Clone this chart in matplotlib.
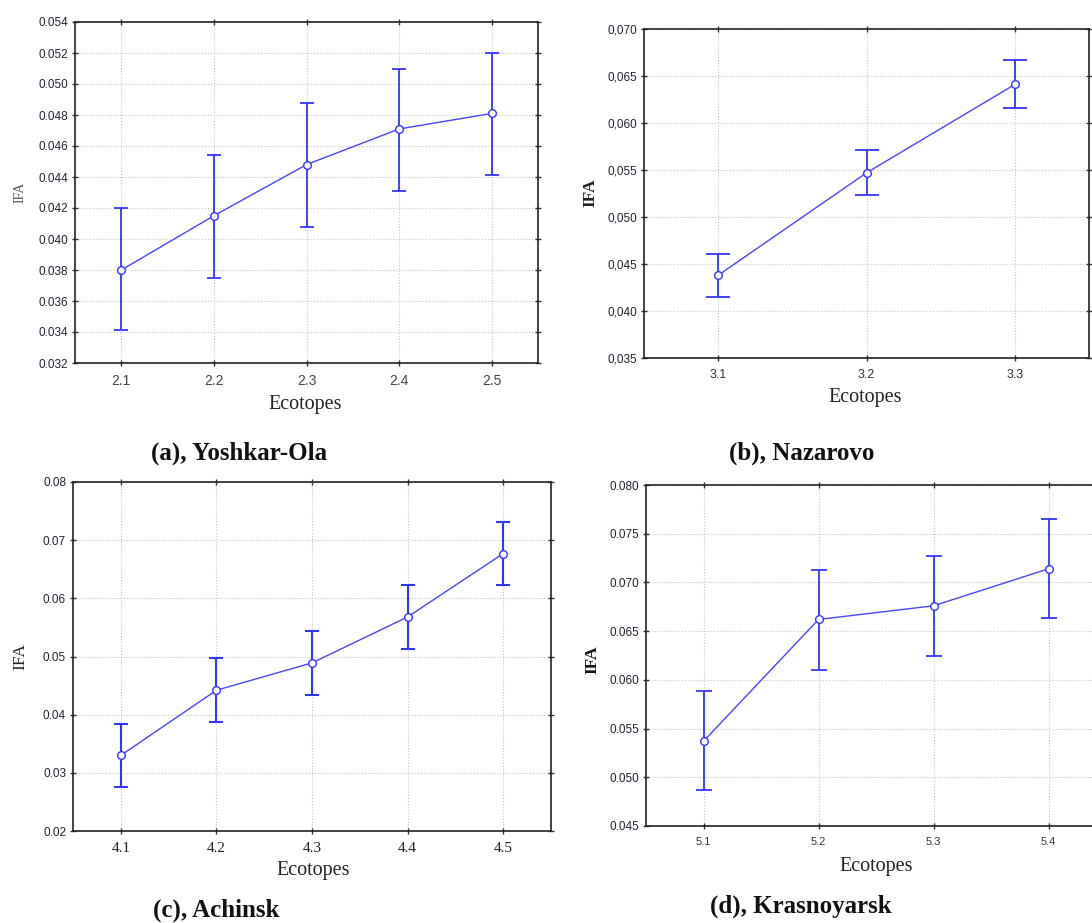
import matplotlib
matplotlib.use("Agg")
import matplotlib.pyplot as plt
import numpy as np

# ecotope labels per city
eco_a = ["2.1", "2.2", "2.3", "2.4", "2.5"]
eco_b = ["3.1", "3.2", "3.3"]
eco_c = ["4.1", "4.2", "4.3", "4.4", "4.5"]
eco_d = ["5.1", "5.2", "5.3", "5.4"]

# IFA means and confidence limits
mean_a = [0.0380, 0.0415, 0.0448, 0.0471, 0.0481]
low_a = [0.0341, 0.0375, 0.0408, 0.0431, 0.0441]
high_a = [0.0420, 0.0454, 0.0488, 0.0510, 0.0520]

mean_b = [0.0438, 0.0547, 0.0641]
low_b = [0.0415, 0.0523, 0.0616]
high_b = [0.0461, 0.0571, 0.0667]

mean_c = [0.0330, 0.0442, 0.0489, 0.0568, 0.0677]
low_c = [0.0275, 0.0388, 0.0434, 0.0513, 0.0623]
high_c = [0.0384, 0.0498, 0.0544, 0.0623, 0.0732]

mean_d = [0.0537, 0.0662, 0.0676, 0.0714]
low_d = [0.0487, 0.0610, 0.0625, 0.0663]
high_d = [0.0589, 0.0713, 0.0727, 0.0765]

captions = [("(a), ", "Yoshkar-Ola"), ("(b), ", "Nazarovo"),
            ("(c), ", "Achinsk"), ("(d), ", "Krasnoyarsk")]

W, H = 1092, 923
SERIF = ["Liberation Serif", "DejaVu Serif"]
SANS = ["Liberation Sans", "DejaVu Sans"]
BLUE = "#3434ff"

fig = plt.figure(figsize=(W / 100, H / 100), dpi=100)
fig.patch.set_facecolor("white")


def px_axes(l, t, r, b):
    return fig.add_axes([l / W, 1 - b / H, (r - l) / W, (b - t) / H])


def ftext(x, y, s, **kw):
    fig.text(x / W, 1 - y / H, s, ha="center", va="center", **kw)


def panel(ax, labels, mean, low, high, yticks, fmt, comma, capsize,
          xfont, xsize, xcolor, lw_err):
    x = np.arange(len(labels))
    mean = np.array(mean)
    err = [mean - np.array(low), np.array(high) - mean]
    ax.errorbar(x, mean, yerr=err, fmt="none", ecolor=BLUE, elinewidth=lw_err,
                capsize=capsize, capthick=lw_err, zorder=3)
    ax.plot(x, mean, "-", color="#4646ff", lw=1.0, marker="o", ms=5.5,
            mfc="white", mec=BLUE, mew=1.0, zorder=4)
    ax.set_xlim(-0.5, len(labels) - 0.5)
    ax.set_ylim(yticks[0], yticks[-1])
    ax.set_xticks(x)
    ax.set_xticklabels(labels, fontfamily=xfont, fontsize=xsize, color=xcolor)
    ax.set_yticks(yticks)
    yl = [fmt % v for v in yticks]
    if comma:
        yl = [s.replace(".", ",") for s in yl]
    ax.set_yticklabels(yl, fontfamily=SANS, fontsize=8.5, color="#222233")
    ax.grid(True, color="#c4c4c4", ls=":", lw=0.8)
    ax.tick_params(direction="inout", length=4, width=1, color="#333333",
                   top=True, right=True, pad=3)
    ax.tick_params(axis="x", pad=6)
    for s in ax.spines.values():
        s.set_color("#222222")
        s.set_linewidth(1.2)


ax = px_axes(75, 22, 538, 363)
panel(ax, eco_a, mean_a, low_a, high_a, np.linspace(0.032, 0.054, 12), "%.3f",
      False, 5, SANS, 10, "#444444", 1.3)
ftext(305, 405, "Ecotopes", fontfamily=SERIF, fontsize=14.5, color="#222222")
ftext(20, 192, "IFA", fontfamily=SERIF, fontsize=10, rotation=90, color="#555555")

ax = px_axes(644, 29, 1089, 358)
panel(ax, eco_b, mean_b, low_b, high_b, np.linspace(0.035, 0.070, 8), "%.3f",
      True, 8.5, SANS, 9, "#333333", 1.3)
ftext(865, 398, "Ecotopes", fontfamily=SERIF, fontsize=14.5, color="#222222")
ftext(590, 193, "IFA", fontfamily=SERIF, fontsize=12.5, rotation=90,
      fontweight="bold", color="#222222")

ax = px_axes(73, 482, 551, 831)
panel(ax, eco_c, mean_c, low_c, high_c, np.linspace(0.02, 0.08, 7), "%.2f",
      False, 5, SERIF, 11, "#222222", 1.5)
ftext(313, 870, "Ecotopes", fontfamily=SERIF, fontsize=14.5, color="#222222")
ftext(20, 657, "IFA", fontfamily=SERIF, fontsize=12.5, rotation=90, color="#222222")

ax = px_axes(646, 485, 1106, 826)
panel(ax, eco_d, mean_d, low_d, high_d, np.linspace(0.045, 0.080, 8), "%.3f",
      False, 6, SANS, 8, "#333333", 1.3)
ftext(876, 866, "Ecotopes", fontfamily=SERIF, fontsize=14.5, color="#222222")
ftext(592, 660, "IFA", fontfamily=SERIF, fontsize=12.5, rotation=90,
      fontweight="bold", color="#111111")

# captions under each panel
cap_pos = [(239, 453), (802, 453), (216, 910), (801, 906)]
for (pre, name), (cx, cy) in zip(captions, cap_pos):
    ftext(cx, cy, pre + name, fontfamily=SERIF, fontsize=18, fontweight="bold",
          color="#111111")

fig.savefig("out.png", dpi=100, facecolor="white")
